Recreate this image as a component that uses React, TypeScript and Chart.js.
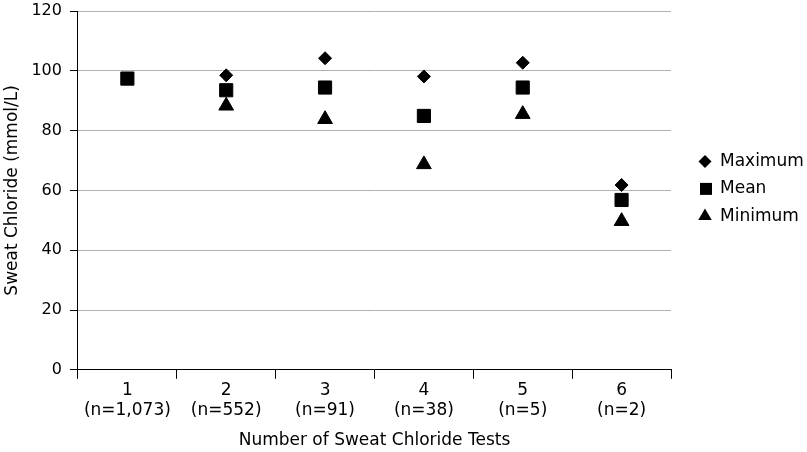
import React, { useEffect, useRef } from "react";
import { Chart, registerables } from "chart.js";

Chart.register(...registerables);

const categories: string[][] = [
  ["1", "(n=1,073)"],
  ["2", "(n=552)"],
  ["3", "(n=91)"],
  ["4", "(n=38)"],
  ["5", "(n=5)"],
  ["6", "(n=2)"],
];
const maximumValues: (number | null)[] = [null, 98.5, 104.2, 98.1, 102.7, 61.8];
const meanValues: (number | null)[] = [97.4, 93.5, 94.4, 84.9, 94.4, 56.8];
const minimumValues: (number | null)[] = [null, 88.3, 83.8, 68.7, 85.5, 49.7];
const seriesNames: string[] = ["Maximum", "Mean", "Minimum"];

const FONT = "'DejaVu Sans', 'Liberation Sans', Arial, sans-serif";

function drawLegendMarker(ctx: CanvasRenderingContext2D, style: string, x: number, y: number) {
  ctx.beginPath();
  if (style === "rectRot") {
    const r = 6.5;
    ctx.moveTo(x, y - r);
    ctx.lineTo(x + r, y);
    ctx.lineTo(x, y + r);
    ctx.lineTo(x - r, y);
  } else if (style === "rect") {
    const h = 6;
    ctx.rect(x - h, y - h, 2 * h, 2 * h);
  } else {
    const r = 7.8;
    ctx.moveTo(x, y - r);
    ctx.lineTo(x + r * Math.sin((2 * Math.PI) / 3), y - r * Math.cos((2 * Math.PI) / 3));
    ctx.lineTo(x + r * Math.sin((4 * Math.PI) / 3), y - r * Math.cos((4 * Math.PI) / 3));
  }
  ctx.closePath();
  ctx.fillStyle = "#000";
  ctx.fill();
}

const rightLegend = {
  id: "rightLegend",
  afterDraw(chart: any) {
    const { ctx, chartArea } = chart;
    const cy = (chartArea.top + chartArea.bottom) / 2 - 1.5;
    const spacing = 27.3;
    ctx.save();
    ctx.font = `17px ${FONT}`;
    ctx.textBaseline = "middle";
    ctx.textAlign = "left";
    chart.data.datasets.forEach((ds: any, i: number) => {
      const y = cy + (i - 1) * spacing;
      const mx = chartArea.right + (ds.pointStyle === "rect" ? 35 : 34);
      drawLegendMarker(ctx, ds.pointStyle, mx, y);
      ctx.fillStyle = "#000";
      ctx.fillText(ds.label, chartArea.right + 49, y);
    });
    ctx.restore();
  },
};

export default function App() {
  const ref = useRef<HTMLCanvasElement | null>(null);

  useEffect(() => {
    if (!ref.current) return;
    const chart = new Chart(ref.current, {
      type: "line",
      data: {
        labels: categories,
        datasets: [
          {
            label: seriesNames[0],
            data: maximumValues,
            showLine: false,
            pointStyle: "rectRot",
            pointRadius: 6.5,
            pointHoverRadius: 6.5,
            backgroundColor: "#000",
            borderColor: "#000",
            pointBorderWidth: 1,
          },
          {
            label: seriesNames[1],
            data: meanValues,
            showLine: false,
            pointStyle: "rect",
            pointRadius: 9.3,
            pointHoverRadius: 9.3,
            backgroundColor: "#000",
            borderColor: "#000",
            pointBorderWidth: 1,
          },
          {
            label: seriesNames[2],
            data: minimumValues,
            showLine: false,
            pointStyle: "triangle",
            pointRadius: 8.5,
            pointHoverRadius: 8.5,
            backgroundColor: "#000",
            borderColor: "#000",
            pointBorderWidth: 1,
          },
        ],
      },
      plugins: [rightLegend],
      options: {
        animation: false,
        responsive: true,
        maintainAspectRatio: false,
        layout: { padding: { left: 2, top: 0, right: 136, bottom: 1 } },
        plugins: {
          tooltip: { enabled: false },
          legend: { display: false },
        },
        scales: {
          x: {
            type: "category",
            offset: true,
            grid: {
              display: true,
              drawOnChartArea: false,
              offset: true,
              tickLength: 9,
              color: "#000",
              tickColor: "#000",
            },
            border: { display: true, color: "#000", width: 1 },
            ticks: {
              color: "#000",
              font: { family: FONT, size: 17 },
              maxRotation: 0,
              autoSkip: false,
              padding: 1.5,
            },
            title: {
              display: true,
              text: "Number of Sweat Chloride Tests",
              color: "#000",
              font: { family: FONT, size: 17 },
              padding: { top: 8, bottom: 0 },
            },
          },
          y: {
            min: 0,
            max: 120,
            afterFit: (scale: any) => {
              scale.paddingTop = 11;
            },
            ticks: {
              stepSize: 20,
              color: "#000",
              font: { family: FONT, size: 16 },
              padding: 8,
            },
            grid: {
              color: "#b0b0b0",
              tickColor: "#000",
              tickLength: 8,
            },
            border: { display: true, color: "#000", width: 1 },
            title: {
              display: true,
              text: "Sweat Chloride (mmol/L)",
              color: "#000",
              font: { family: FONT, size: 17 },
              padding: { top: 0, bottom: 1 },
            },
          },
        },
      },
    });
    return () => chart.destroy();
  }, []);

  return (
    <div style={{ position: "fixed", left: 0, top: 0, width: 807, height: 452, background: "#fff" }}>
      <canvas ref={ref} />
    </div>
  );
}
